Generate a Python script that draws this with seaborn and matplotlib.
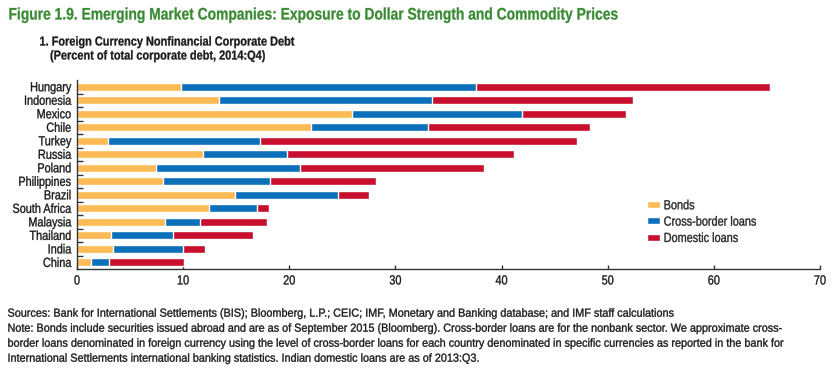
import numpy as np
import pandas as pd
import matplotlib
matplotlib.use("Agg")
import matplotlib.pyplot as plt
from matplotlib.patches import Patch
from matplotlib.ticker import FixedLocator
from matplotlib.patheffects import AbstractPathEffect
from matplotlib.transforms import Affine2D
import seaborn as sns

countries = ['Hungary', 'Indonesia', 'Mexico', 'Chile', 'Turkey', 'Russia', 'Poland',
             'Philippines', 'Brazil', 'South Africa', 'Malaysia', 'Thailand', 'India', 'China']
bonds = [9.8, 13.4, 25.9, 22.0, 2.9, 11.9, 7.4, 8.1, 14.9, 12.4, 8.3, 3.2, 3.4, 1.3]
cross_border = [27.8, 20.0, 16.0, 11.1, 14.3, 7.9, 13.6, 10.1, 9.7, 4.6, 3.3, 5.8, 6.6, 1.7]
domestic = [27.7, 19.0, 9.85, 15.2, 29.9, 21.4, 17.3, 10.0, 2.9, 1.06, 6.3, 7.55, 2.1, 7.1]

colors = {'Bonds': '#FDBB55', 'Cross-border loans': '#0B70B9', 'Domestic loans': '#C8102E'}

df = pd.DataFrame({'Country': countries, 'Bonds': bonds,
                   'Cross-border loans': cross_border, 'Domestic loans': domestic})
df['cum_cb'] = df['Bonds'] + df['Cross-border loans']
df['cum_total'] = df['cum_cb'] + df['Domestic loans']


class Condense(AbstractPathEffect):
    """Squeeze text horizontally (and thicken it a little) to mimic a condensed typeface."""

    def __init__(self, factor=0.8, anchor='left', stroke=0.25):
        super().__init__()
        self.factor = factor
        self.anchor = anchor
        self.stroke = stroke

    def draw_path(self, renderer, gc, tpath, affine, rgbFace=None):
        x0 = 0.0
        ext = tpath.get_extents()
        if np.isfinite(ext.x0) and np.isfinite(ext.x1):
            if self.anchor == 'right':
                x0 = ext.x1
            elif self.anchor == 'center':
                x0 = (ext.x0 + ext.x1) / 2
        t = Affine2D().translate(-x0, 0).scale(self.factor, 1).translate(x0, 0) + affine
        gc0 = renderer.new_gc()
        gc0.copy_properties(gc)
        if rgbFace is not None and self.stroke > 0:
            gc0.set_foreground(rgbFace)
            gc0.set_linewidth(self.stroke)
        renderer.draw_path(gc0, tpath, t, rgbFace)
        gc0.restore()


sns.set_style('white')
plt.rcParams['font.family'] = ['Liberation Sans', 'DejaVu Sans']

fig = plt.figure(figsize=(8.39, 3.70), dpi=100)
ax = fig.add_axes([77 / 839, 1 - 268.5 / 370, (820 - 77) / 839, (268.5 - 80) / 370])

# stacked bars: draw totals first, then overlay the lower segments
sns.barplot(data=df, y='Country', x='cum_total', color=colors['Domestic loans'],
            width=0.6, orient='h', ax=ax, saturation=1)
sns.barplot(data=df, y='Country', x='cum_cb', color=colors['Cross-border loans'],
            width=0.6, orient='h', ax=ax, saturation=1)
sns.barplot(data=df, y='Country', x='Bonds', color=colors['Bonds'],
            width=0.6, orient='h', ax=ax, saturation=1)

ax.set_xlim(0, 70)
ax.set_ylim(13.45, -0.5)
ax.set_xlabel('')
ax.set_ylabel('')
ax.set_xticks(range(0, 71, 10))
for s in ['top', 'right']:
    ax.spines[s].set_visible(False)
for s in ['left', 'bottom']:
    ax.spines[s].set_color('#333333')
    ax.spines[s].set_linewidth(1.0)

ax.tick_params(axis='x', direction='in', length=3, width=1, color='#333333',
               labelsize=9.5, pad=5, bottom=True, labelcolor='#1a1a1a')
ax.tick_params(axis='y', which='major', length=0, labelsize=9.5, pad=4, left=False,
               labelcolor='#1a1a1a')
ax.yaxis.set_minor_locator(FixedLocator(np.arange(0.5, 13, 1)))
ax.tick_params(axis='y', which='minor', direction='in', length=4, width=1,
               color='#333333', left=True)

handles = [Patch(facecolor=c, label=k) for k, c in colors.items()]
leg = ax.legend(handles=handles, loc='upper left', bbox_to_anchor=((646.5 - 77) / 743, 0.362),
                frameon=False, fontsize=9.5, handlelength=1.0, handleheight=0.45,
                handletextpad=0.3, labelspacing=0.33, borderaxespad=0, borderpad=0)

title = fig.text(8.5 / 839, 1 - 19.5 / 370,
                 'Figure 1.9. Emerging Market Companies: Exposure to Dollar Strength and Commodity Prices',
                 color='#3A8A34', fontsize=12, fontweight='bold', va='baseline')
sub1 = fig.text(39.5 / 839, 1 - 45.5 / 370, '1. Foreign Currency Nonfinancial Corporate Debt',
                fontsize=9.3, fontweight='bold', va='baseline', color='#1a1a1a')
sub2 = fig.text(50 / 839, 1 - 59.5 / 370, '(Percent of total corporate debt, 2014:Q4)',
                fontsize=9.3, fontweight='bold', va='baseline', color='#1a1a1a')

notes = [
    'Sources: Bank for International Settlements (BIS); Bloomberg, L.P.; CEIC; IMF, Monetary and Banking database; and IMF staff calculations',
    'Note: Bonds include securities issued abroad and are as of September 2015 (Bloomberg). Cross-border loans are for the nonbank sector. We approximate cross-',
    'border loans denominated in foreign currency using the level of cross-border loans for each country denominated in specific currencies as reported in the bank for',
    'International Settlements international banking statistics. Indian domestic loans are as of 2013:Q3.',
]
note_texts = []
for i, line in enumerate(notes):
    note_texts.append(fig.text(7.5 / 839, 1 - (316.7 + i * 15) / 370, line, fontsize=8.4,
                               va='baseline', color='#1a1a1a'))

# squeeze each text group so its width matches the condensed face of the reference
renderer = fig.canvas.get_renderer()


def fit_factor(t, target_px):
    return target_px / t.get_window_extent(renderer).width


f_title = fit_factor(title, 607)
title.set_path_effects([Condense(f_title, stroke=0.2)])
f_sub = fit_factor(sub1, 254)
sub1.set_path_effects([Condense(f_sub, stroke=0.2)])
sub2.set_path_effects([Condense(f_sub, stroke=0.2)])
f_note = fit_factor(note_texts[1], 775)
for t in note_texts:
    t.set_path_effects([Condense(f_note)])

fig.canvas.draw()
ylabels = ax.get_yticklabels()
f_tick = fit_factor(ylabels[countries.index('Philippines')], 53)
for lbl in ylabels:
    lbl.set_path_effects([Condense(f_tick, 'right')])
for lbl in ax.get_xticklabels():
    lbl.set_path_effects([Condense(f_tick, 'center')])
for t in leg.get_texts():
    t.set_path_effects([Condense(f_tick)])

fig.savefig('out.png', dpi=100)
